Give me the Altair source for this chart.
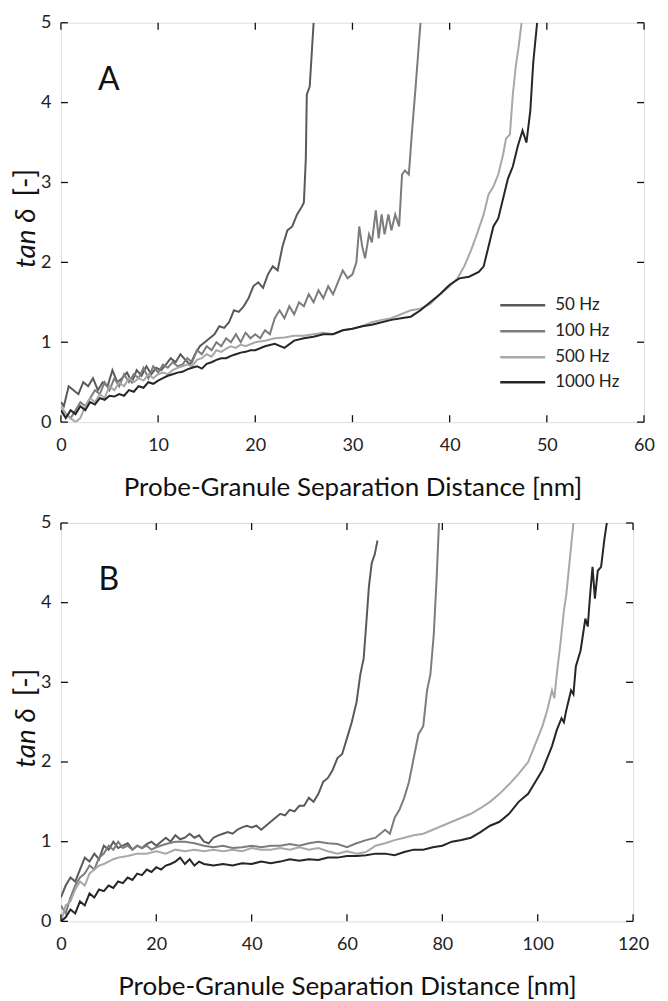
import altair as alt
import pandas as pd

FONT = "Lato"

series_names = ["50 Hz", "100 Hz", "500 Hz", "1000 Hz"]
series_colors = ["#5a5a5a", "#7c7c7c", "#a8a8a8", "#262626"]

x_ticks_a = [0, 10, 20, 30, 40, 50, 60]
x_ticks_b = [0, 20, 40, 60, 80, 100, 120]
y_ticks = [0, 1, 2, 3, 4, 5]

# ---------------- Panel A ----------------
a_50 = [(0, 0.25), (0.3, 0.2), (0.8, 0.45), (1.3, 0.4), (1.8, 0.35), (2.3, 0.5), (2.8, 0.45),
        (3.3, 0.55), (3.8, 0.4), (4.3, 0.5), (4.8, 0.45), (5.3, 0.65), (5.8, 0.5), (6.3, 0.55),
        (6.8, 0.62), (7.3, 0.5), (7.8, 0.65), (8.3, 0.58), (8.8, 0.7), (9.3, 0.6), (9.8, 0.68),
        (10.3, 0.65), (10.8, 0.72), (11.3, 0.8), (11.8, 0.75), (12.3, 0.85), (12.8, 0.78),
        (13.3, 0.72), (13.8, 0.85), (14.3, 0.95), (14.8, 1.0), (15.3, 1.05), (15.8, 1.1),
        (16.3, 1.2), (16.8, 1.18), (17.3, 1.25), (17.8, 1.4), (18.3, 1.38), (18.8, 1.45),
        (19.3, 1.55), (19.8, 1.7), (20.3, 1.75), (20.8, 1.68), (21.3, 1.85), (21.8, 1.95),
        (22.3, 1.9), (22.8, 2.2), (23.3, 2.4), (23.8, 2.45), (24.3, 2.6), (24.8, 2.7),
        (25.0, 2.75), (25.2, 3.3), (25.3, 4.1), (25.6, 4.2), (25.8, 4.6), (26.0, 5.0)]

a_100 = [(0, 0.2), (0.5, 0.1), (1.0, 0.05), (1.5, 0.15), (2, 0.25), (2.5, 0.2), (3, 0.3),
         (3.5, 0.4), (4, 0.35), (4.5, 0.5), (5, 0.4), (5.5, 0.55), (6, 0.45), (6.5, 0.6),
         (7, 0.5), (7.5, 0.6), (8, 0.55), (8.5, 0.68), (9, 0.55), (9.5, 0.7), (10, 0.62),
         (10.5, 0.72), (11, 0.68), (11.5, 0.75), (12, 0.7), (12.5, 0.72), (13, 0.8), (13.5, 0.75),
         (14, 0.9), (14.5, 0.85), (15, 0.95), (15.5, 0.9), (16, 1.0), (16.5, 0.95), (17, 1.05),
         (17.5, 1.0), (18, 1.1), (18.5, 1.0), (19, 1.12), (19.5, 1.05), (20, 1.1), (20.5, 1.05),
         (21, 1.15), (21.5, 1.1), (22, 1.3), (22.5, 1.4), (23, 1.3), (23.5, 1.45), (24, 1.35),
         (24.5, 1.5), (25, 1.45), (25.5, 1.6), (26, 1.5), (26.5, 1.65), (27, 1.55), (27.5, 1.7),
         (28, 1.6), (28.5, 1.75), (29, 1.9), (29.5, 1.8), (30, 1.85), (30.4, 2.0), (30.7, 2.45),
         (31.0, 2.2), (31.3, 2.05), (31.7, 2.35), (32.0, 2.25), (32.4, 2.65), (32.7, 2.3),
         (33.0, 2.6), (33.3, 2.35), (33.7, 2.6), (34.0, 2.4), (34.4, 2.6), (34.8, 2.45),
         (35.1, 3.1), (35.4, 3.15), (35.8, 3.1), (36.1, 3.6), (36.5, 4.2), (37.0, 5.0)]

a_500 = [(0, 0.2), (0.5, 0.1), (1, 0.05), (1.5, 0.0), (2, 0.05), (2.5, 0.2), (3, 0.3), (3.5, 0.25),
         (4, 0.35), (4.5, 0.3), (5, 0.45), (5.5, 0.4), (6, 0.5), (6.5, 0.45), (7, 0.55), (7.5, 0.5),
         (8, 0.55), (8.5, 0.52), (9, 0.6), (9.5, 0.55), (10, 0.6), (10.5, 0.62), (11, 0.6),
         (11.5, 0.65), (12, 0.68), (12.5, 0.7), (13, 0.72), (13.5, 0.7), (14, 0.78), (14.5, 0.8),
         (15, 0.85), (15.5, 0.82), (16, 0.9), (16.5, 0.88), (17, 0.92), (17.5, 0.95), (18, 0.93),
         (18.5, 0.97), (19, 0.95), (20, 1.0), (21, 1.02), (22, 1.05), (23, 1.06), (24, 1.08),
         (25, 1.08), (26, 1.1), (27, 1.12), (28, 1.1), (29, 1.15), (30, 1.17), (31, 1.2),
         (32, 1.25), (33, 1.28), (34, 1.3), (35, 1.35), (36, 1.4), (37, 1.42), (38, 1.48),
         (39, 1.6), (40, 1.7), (40.8, 1.8), (41.5, 1.95), (42.2, 2.15), (42.8, 2.35), (43.5, 2.6),
         (44, 2.85), (44.5, 2.95), (45, 3.1), (45.5, 3.35), (45.8, 3.55), (46.2, 3.6),
         (46.5, 4.1), (46.8, 4.45), (47.1, 4.7), (47.4, 5.0)]

a_1000 = [(0, 0.15), (0.5, 0.05), (1, 0.15), (1.5, 0.1), (2, 0.2), (2.5, 0.15), (3, 0.25),
          (3.5, 0.22), (4, 0.3), (4.5, 0.28), (5, 0.33), (5.5, 0.32), (6, 0.35), (6.5, 0.33),
          (7, 0.4), (7.5, 0.38), (8, 0.45), (8.5, 0.43), (9, 0.5), (9.5, 0.48), (10, 0.52),
          (10.5, 0.55), (11, 0.58), (11.5, 0.6), (12, 0.62), (12.5, 0.63), (13, 0.66),
          (13.5, 0.68), (14, 0.7), (14.5, 0.67), (15, 0.73), (15.5, 0.75), (16, 0.78), (16.5, 0.8),
          (17, 0.8), (17.5, 0.83), (18, 0.85), (18.5, 0.87), (19, 0.88), (19.5, 0.9), (20, 0.9),
          (21, 0.95), (22, 0.98), (23, 0.93), (24, 1.02), (25, 1.05), (26, 1.07), (27, 1.1),
          (28, 1.1), (29, 1.15), (30, 1.17), (31, 1.2), (32, 1.22), (33, 1.25), (34, 1.28),
          (35, 1.3), (36, 1.32), (37, 1.4), (38, 1.5), (39, 1.6), (40, 1.72), (41, 1.8),
          (42, 1.82), (43, 1.88), (43.5, 1.95), (44, 2.2), (44.5, 2.45), (45, 2.55), (45.5, 2.8),
          (46, 3.05), (46.5, 3.2), (47, 3.45), (47.5, 3.65), (47.9, 3.5), (48.3, 3.9),
          (48.6, 4.5), (49, 5.0)]

# ---------------- Panel B ----------------
b_50 = [(0, 0.3), (1, 0.45), (2, 0.55), (3, 0.5), (4, 0.65), (5, 0.8), (6, 0.75), (7, 0.85),
        (8, 0.78), (9, 0.95), (10, 0.9), (11, 1.0), (12, 0.92), (13, 0.95), (14, 0.98), (15, 0.9),
        (16, 0.95), (17, 0.92), (18, 0.97), (19, 1.0), (20, 0.95), (21, 1.0), (22, 1.05),
        (23, 1.0), (24, 1.08), (25, 1.03), (26, 1.05), (27, 1.1), (28, 1.05), (29, 1.08),
        (30, 1.0), (31, 0.98), (32, 1.05), (33, 1.08), (34, 1.1), (35, 1.12), (36, 1.1),
        (37, 1.15), (38, 1.18), (39, 1.2), (40, 1.18), (41, 1.2), (42, 1.15), (43, 1.2),
        (44, 1.25), (45, 1.3), (46, 1.35), (47, 1.33), (48, 1.4), (49, 1.38), (50, 1.45),
        (51, 1.45), (52, 1.55), (53, 1.5), (54, 1.6), (55, 1.75), (56, 1.8), (57, 1.9),
        (58, 2.05), (59, 2.1), (60, 2.3), (61, 2.5), (62, 2.75), (62.8, 3.1), (63.5, 3.3),
        (64, 3.7), (64.6, 4.2), (65.2, 4.5), (65.8, 4.6), (66.4, 4.78)]

b_100 = [(0, 0.2), (1, 0.1), (2, 0.3), (3, 0.45), (4, 0.55), (5, 0.6), (6, 0.7), (7, 0.65),
         (8, 0.8), (9, 0.85), (10, 0.95), (11, 0.9), (12, 1.0), (13, 0.92), (14, 0.95), (15, 0.9),
         (16, 0.95), (17, 0.92), (18, 0.95), (19, 0.9), (20, 0.93), (22, 0.97), (24, 1.0),
         (26, 1.0), (28, 0.98), (30, 0.95), (32, 0.93), (34, 0.95), (36, 0.92), (38, 0.93),
         (40, 0.95), (42, 0.93), (44, 0.95), (46, 0.95), (48, 0.97), (50, 0.95), (52, 0.98),
         (54, 1.0), (56, 0.98), (58, 0.97), (60, 0.93), (62, 0.98), (64, 1.02), (66, 1.05),
         (68, 1.15), (69, 1.1), (70, 1.3), (71, 1.4), (72, 1.55), (73, 1.75), (74, 2.05),
         (75, 2.35), (76, 2.45), (76.8, 2.9), (77.5, 3.1), (78.2, 3.6), (78.8, 4.3), (79.3, 5.0)]

b_500 = [(0, 0.0), (1, 0.2), (2, 0.25), (3, 0.4), (4, 0.5), (5, 0.45), (6, 0.6), (7, 0.65),
         (8, 0.7), (9, 0.72), (10, 0.75), (11, 0.78), (12, 0.8), (14, 0.82), (16, 0.85),
         (18, 0.85), (20, 0.88), (22, 0.85), (24, 0.9), (26, 0.88), (28, 0.9), (30, 0.88),
         (32, 0.9), (34, 0.88), (36, 0.9), (38, 0.88), (40, 0.92), (42, 0.9), (44, 0.9),
         (46, 0.92), (48, 0.9), (50, 0.93), (52, 0.9), (54, 0.92), (56, 0.88), (58, 0.85),
         (60, 0.88), (62, 0.85), (64, 0.87), (66, 0.95), (68, 0.98), (70, 1.02), (72, 1.05),
         (74, 1.08), (76, 1.1), (78, 1.15), (80, 1.2), (82, 1.25), (84, 1.3), (86, 1.35),
         (88, 1.42), (90, 1.5), (92, 1.6), (94, 1.72), (96, 1.85), (98, 2.0), (99, 2.15),
         (100, 2.3), (101, 2.45), (102, 2.65), (103, 2.9), (103.5, 2.8), (104, 3.1),
         (104.8, 3.5), (105.5, 3.9), (106, 4.1), (106.5, 4.4), (107, 4.7), (107.5, 5.0)]

b_1000 = [(0, 0.0), (1, 0.05), (2, 0.15), (3, 0.1), (4, 0.25), (5, 0.2), (6, 0.35), (7, 0.3),
          (8, 0.4), (9, 0.38), (10, 0.45), (11, 0.42), (12, 0.5), (13, 0.48), (14, 0.55),
          (15, 0.52), (16, 0.6), (17, 0.58), (18, 0.65), (19, 0.62), (20, 0.68), (21, 0.65),
          (22, 0.7), (23, 0.72), (24, 0.75), (25, 0.8), (26, 0.72), (27, 0.78), (28, 0.7),
          (29, 0.75), (30, 0.72), (32, 0.7), (34, 0.72), (36, 0.7), (38, 0.73), (40, 0.72),
          (42, 0.75), (44, 0.73), (46, 0.75), (48, 0.78), (50, 0.76), (52, 0.78), (54, 0.77),
          (56, 0.8), (58, 0.8), (60, 0.82), (62, 0.82), (64, 0.83), (66, 0.85), (68, 0.85),
          (70, 0.83), (72, 0.87), (74, 0.9), (76, 0.9), (78, 0.93), (80, 0.95), (82, 1.0),
          (84, 1.02), (86, 1.05), (88, 1.12), (90, 1.2), (92, 1.25), (94, 1.35), (96, 1.5),
          (98, 1.6), (100, 1.8), (101, 1.9), (102, 2.05), (103, 2.2), (104, 2.4), (105, 2.55),
          (105.5, 2.5), (106, 2.65), (107, 2.9), (107.5, 2.85), (108, 3.2), (109, 3.4),
          (110, 3.8), (110.5, 3.7), (111, 4.1), (111.5, 4.45), (112, 4.05), (112.6, 4.4),
          (113.3, 4.45), (114, 4.8), (114.5, 5.0)]


def make_df(series_lists):
    rows = []
    for name, pts in zip(series_names, series_lists):
        for i, (x, y) in enumerate(pts):
            rows.append({"x": x, "y": y, "series": name, "i": i})
    return pd.DataFrame(rows)


TICK = 7
X_TITLE = "Probe-Granule Separation Distance [nm]"


def panel(df, xmax, xticks, W, H, letter, show_legend):
    xs = alt.Scale(domain=[0, xmax], nice=False, zero=False)
    ys = alt.Scale(domain=[0, 5], nice=False, zero=False)
    x_axis = alt.Axis(
        values=xticks, title=X_TITLE,
        ticks=False, domain=False, grid=False, labelFontSize=18, labelFont=FONT,
        labelColor="#222222", labelPadding=14, titleFontSize=26, titleFont=FONT,
        titleFontWeight="normal", titleColor="#111111", titlePadding=20,
        labelFlush=False)
    y_axis = alt.Axis(
        values=y_ticks, title=None, ticks=False, domain=False, grid=False,
        labelFontSize=18, labelFont=FONT, labelColor="#222222", labelPadding=10,
        labelFlush=False)
    color = alt.Color("series:N", sort=series_names,
                      scale=alt.Scale(domain=series_names, range=series_colors),
                      legend=None)
    lines = alt.Chart(df).mark_line(strokeWidth=2, clip=True).encode(
        x=alt.X("x:Q", scale=xs, axis=x_axis, title=X_TITLE),
        y=alt.Y("y:Q", scale=ys, axis=y_axis, title=None),
        color=color,
        order=alt.Order("i:Q"),
    )
    xt = pd.DataFrame({"x": xticks})
    yt = pd.DataFrame({"y": y_ticks})
    tick_style = dict(color="#111111", strokeWidth=1.3)
    bottom = alt.Chart(xt).mark_rule(**tick_style).encode(
        x=alt.X("x:Q", scale=xs, axis=x_axis, title=X_TITLE),
        y=alt.value(H), y2=alt.value(H - TICK))
    top = alt.Chart(xt).mark_rule(**tick_style).encode(
        x=alt.X("x:Q", scale=xs, axis=x_axis, title=X_TITLE),
        y=alt.value(0), y2=alt.value(TICK))
    left = alt.Chart(yt).mark_rule(**tick_style).encode(
        y=alt.Y("y:Q", scale=ys, axis=y_axis, title=None),
        x=alt.value(0), x2=alt.value(TICK))
    right = alt.Chart(yt).mark_rule(**tick_style).encode(
        y=alt.Y("y:Q", scale=ys, axis=y_axis, title=None),
        x=alt.value(W), x2=alt.value(W - TICK))

    lab = alt.Chart(pd.DataFrame({"t": [letter]})).mark_text(
        font=FONT, fontSize=32, color="#111111", align="center", baseline="middle"
    ).encode(x=alt.value(48), y=alt.value(57), text="t:N")

    ytitle_a = alt.Chart(pd.DataFrame({"t": ["tan δ"]})).mark_text(
        font=FONT, fontSize=28, fontStyle="italic", color="#111111", angle=270,
        align="right", baseline="middle"
    ).encode(x=alt.value(-34), y=alt.value(H / 2 - 14), text="t:N")
    ytitle_b = alt.Chart(pd.DataFrame({"t": ["[-]"]})).mark_text(
        font=FONT, fontSize=28, color="#111111", angle=270,
        align="left", baseline="middle"
    ).encode(x=alt.value(-34), y=alt.value(H / 2 - 26), text="t:N")

    layers = [lines, bottom, top, left, right, lab, ytitle_a, ytitle_b]

    if show_legend:
        row_y = [283, 309, 335, 360]
        for name, col, ry in zip(series_names, series_colors, row_y):
            ldf = pd.DataFrame({"t": [name]})
            layers.append(alt.Chart(ldf).mark_rule(strokeWidth=2.5, color=col).encode(
                x=alt.value(440), x2=alt.value(485), y=alt.value(ry)))
            layers.append(alt.Chart(ldf).mark_text(
                font=FONT, fontSize=17, color="#222222", align="left", baseline="middle"
            ).encode(x=alt.value(495), y=alt.value(ry), text="t:N"))

    return alt.layer(*layers).properties(width=W, height=H)


df_a = make_df([a_50, a_100, a_500, a_1000])
df_b = make_df([b_50, b_100, b_500, b_1000])

pa = panel(df_a, 60, x_ticks_a, 584, 400, "A", True)
pb = panel(df_b, 120, x_ticks_b, 573, 399, "B", False)

chart = alt.vconcat(pa, pb, spacing=12).properties(
    padding={"left": 4, "top": 4, "right": 5, "bottom": 0}
).configure_view(
    stroke="#111111", strokeWidth=1.5
).configure(background="white")

chart.save("out.html", embed_options={"renderer": "svg", "actions": False})
